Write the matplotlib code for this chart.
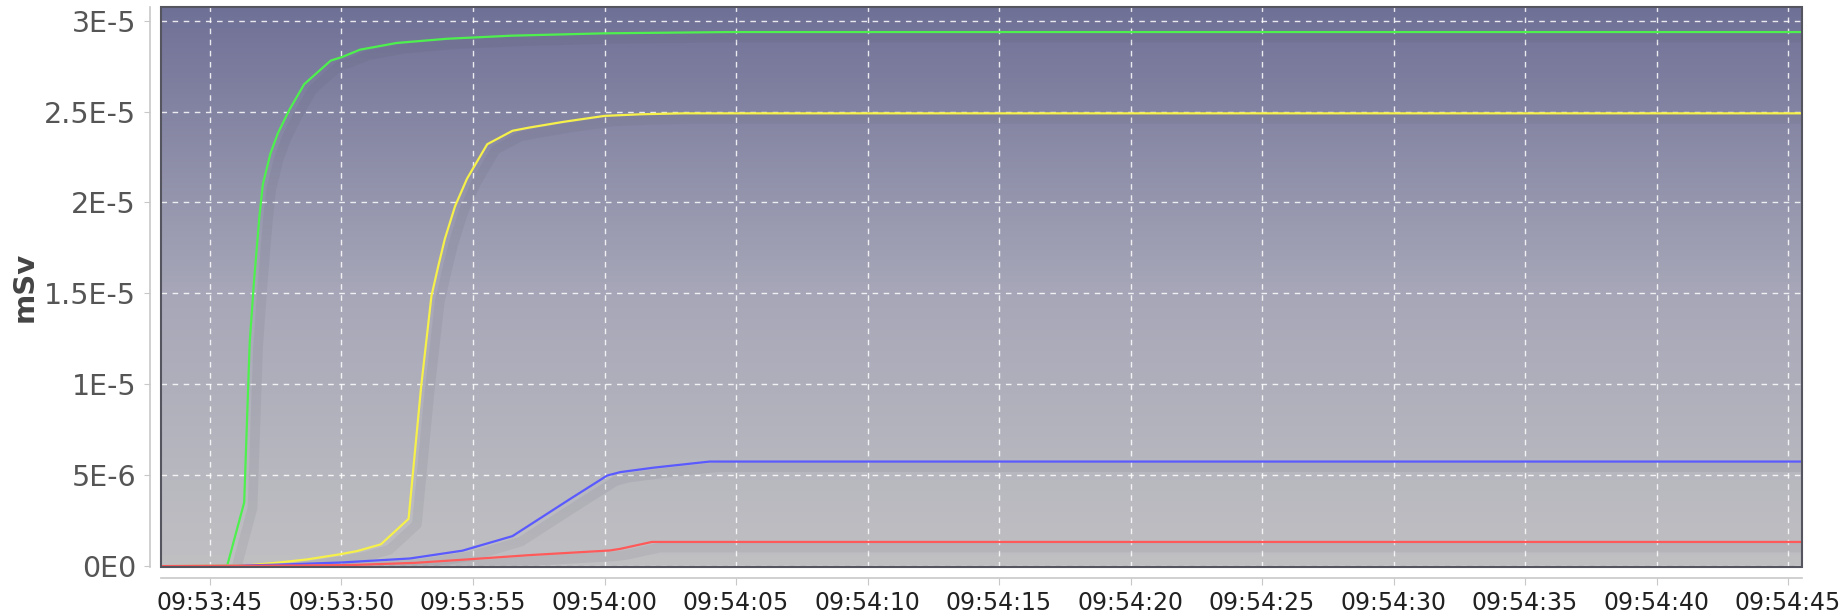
import matplotlib
matplotlib.use("Agg")
import matplotlib.pyplot as plt
import matplotlib.patheffects as pe
import numpy as np
from matplotlib.colors import LinearSegmentedColormap
from matplotlib.patches import Rectangle

# seconds after 09:53:00, values in mSv
green_t = [43.2, 45.65, 46.3, 46.51, 46.67, 46.88, 47.01, 47.3, 47.58, 48.02, 48.58,
           49.59, 50.03, 50.7, 52.1, 54.0, 56.45, 60.0, 64.75, 105.6]
green_v = [0, 0, 3.5e-6, 12.3e-6, 15.6e-6, 19.25e-6, 21.0e-6, 22.7e-6, 23.8e-6, 25.1e-6,
           26.5e-6, 27.8e-6, 28.0e-6, 28.4e-6, 28.77e-6, 29.0e-6, 29.17e-6, 29.3e-6,
           29.37e-6, 29.37e-6]

yellow_t = [43.2, 46.5, 47.5, 48.7, 49.9, 50.6, 51.5, 52.55, 53.03, 53.42, 53.68, 53.93,
            54.32, 54.77, 55.54, 56.5, 57.15, 58.43, 60.0, 61.4, 63.0, 105.6]
yellow_v = [0, 0.05e-6, 0.18e-6, 0.37e-6, 0.64e-6, 0.83e-6, 1.2e-6, 2.6e-6, 9.9e-6,
            14.86e-6, 16.5e-6, 18.0e-6, 19.8e-6, 21.3e-6, 23.2e-6, 23.94e-6, 24.12e-6,
            24.43e-6, 24.76e-6, 24.85e-6, 24.9e-6, 24.9e-6]

blue_t = [43.2, 46.0, 48.0, 50.0, 52.6, 54.6, 56.5, 58.7, 60.1, 60.6, 61.9, 64.0, 105.6]
blue_v = [0, 0.02e-6, 0.1e-6, 0.2e-6, 0.42e-6, 0.85e-6, 1.65e-6, 3.7e-6, 4.98e-6,
          5.17e-6, 5.42e-6, 5.75e-6, 5.75e-6]

red_t = [43.2, 48.0, 50.4, 52.8, 54.8, 57.2, 60.2, 60.6, 61.8, 105.6]
red_v = [0, 0.03e-6, 0.06e-6, 0.18e-6, 0.37e-6, 0.61e-6, 0.86e-6, 0.95e-6, 1.33e-6, 1.33e-6]

tick_secs = list(range(45, 106, 5))
tick_labels = ["09:%02d:%02d" % (53 + s // 60, s % 60) for s in tick_secs]
y_ticks = [0, 5e-6, 1e-5, 1.5e-5, 2e-5, 2.5e-5, 3e-5]
y_labels = ["0E0", "5E-6", "1E-5", "1.5E-5", "2E-5", "2.5E-5", "3E-5"]

fig = plt.figure(figsize=(18.45, 6.16), dpi=100)
ax = fig.add_axes([0.0873, 0.0795, 0.8894, 0.9095])

# background gradient
cmap = LinearSegmentedColormap.from_list("bg", ["#c0c0c3", "#a6a6b8", "#6f7096"])
grad = np.linspace(0, 1, 256).reshape(-1, 1)
ax.imshow(grad, aspect="auto", cmap=cmap, origin="lower", extent=[0, 1, 0, 1],
          transform=ax.transAxes, zorder=0)

ax.set_xlim(43.14, 105.53)
ax.set_ylim(-0.05e-6, 30.76e-6)

ax.grid(True, color="white", linestyle=(0, (4, 4)), linewidth=1.0, alpha=0.85)
ax.set_axisbelow(True)

shadow = [pe.SimpleLineShadow(offset=(6, -4), shadow_color="#505060", alpha=0.09,
                              linewidth=7), pe.Normal()]
for t, v, c in [(green_t, green_v, "#4ef04e"), (yellow_t, yellow_v, "#f6f04a"),
                (blue_t, blue_v, "#5a5aff"), (red_t, red_v, "#ff5a5a")]:
    ax.plot(t, v, color=c, linewidth=1.6, zorder=3, path_effects=shadow)

ax.add_patch(Rectangle((0, 0), 1, 1, transform=ax.transAxes, fill=False,
                       edgecolor="#555560", linewidth=1.5, zorder=5, clip_on=False))

for s in ["top", "right"]:
    ax.spines[s].set_visible(False)
for s in ["left", "bottom"]:
    ax.spines[s].set_position(("outward", 8))
    ax.spines[s].set_color("#c8c8c8")
    ax.spines[s].set_linewidth(1.2)

ax.set_xticks(tick_secs)
ax.set_xticklabels(tick_labels)
ax.set_yticks(y_ticks)
ax.set_yticklabels(y_labels)
ax.tick_params(axis="x", colors="#c8c8c8", labelcolor="#222222", labelsize=17,
               length=5, pad=4)
ax.tick_params(axis="y", colors="#c8c8c8", labelcolor="#555555", labelsize=20.5,
               length=4, pad=6)

ax.set_ylabel("mSv", fontsize=21, fontweight="bold", color="#444444", labelpad=4)

fig.savefig("out.png", dpi=100)
